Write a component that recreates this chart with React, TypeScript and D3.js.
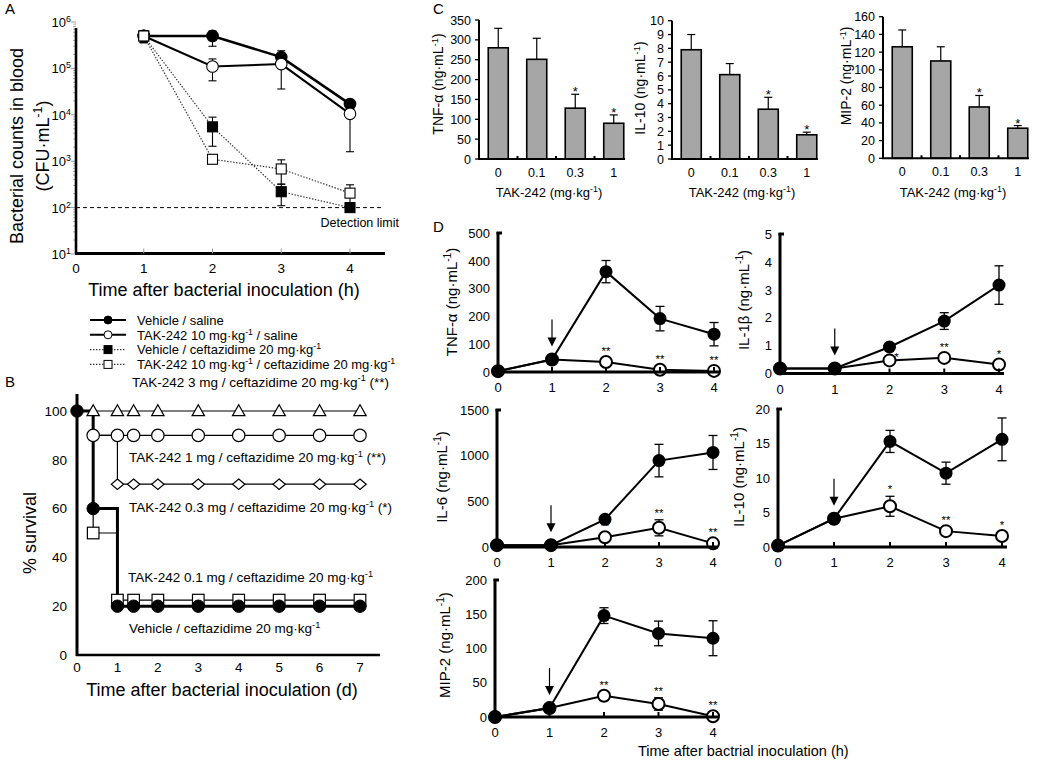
import React from 'react';
import * as d3 from 'd3';

const FONT = "'Liberation Sans', Arial, Helvetica, sans-serif";

// ---------------- Panel A data ----------------
const aHours = [1, 2, 3, 4];
const aVehSaline = [5.0e5, 5.0e5, 1.75e5, 1.7e4];
const aVehSalineLo = [3.6e5, 3.0e5, 1.24e5, 1.5e4];
const aVehSalineHi = [6.5e5, 6.4e5, 2.4e5, 2.0e4];
const aTakSaline = [5.0e5, 1.1e5, 1.24e5, 1.05e4];
const aTakSalineLo = [3.6e5, 5.4e4, 3.6e4, 1.6e3];
const aTakSalineHi = [6.5e5, 1.6e5, 1.6e5, 1.5e4];
const aVehCef = [5.0e5, 5.5e3, 220, 100];
const aVehCefLo = [3.6e5, 2.1e3, 110, 100];
const aVehCefHi = [6.5e5, 8.9e3, 320, 100];
const aTakCef = [5.0e5, 1.1e3, 680, 205];
const aTakCefLo = [3.6e5, 1.1e3, 320, 100];
const aTakCefHi = [6.5e5, 1.1e3, 1070, 310];
const aDetectionLimit = 100;
const aYTicks = [1e1, 1e2, 1e3, 1e4, 1e5, 1e6];
const aXTicks = [0, 1, 2, 3, 4];
const aLegend = [
  'Vehicle / saline',
  'TAK-242 10 mg·kg^{-1} / saline',
  'Vehicle / ceftazidime 20 mg·kg^{-1}',
  'TAK-242 10 mg·kg^{-1} / ceftazidime 20 mg·kg^{-1}',
];

// ---------------- Panel B data ----------------
const bDays = [0, 0.4, 1, 1.4, 2, 3, 4, 5, 6, 7];
const bVehicle = [100, 60, 20, 20, 20, 20, 20, 20, 20, 20];
const bTak01 = [100, 50, 22.5, 22.5, 22.5, 22.5, 22.5, 22.5, 22.5, 22.5];
const bTak03 = [100, 90, 70, 70, 70, 70, 70, 70, 70, 70];
const bTak1 = [100, 90, 90, 90, 90, 90, 90, 90, 90, 90];
const bTak3 = [100, 100, 100, 100, 100, 100, 100, 100, 100, 100];
const bXTicks = [0, 1, 2, 3, 4, 5, 6, 7];
const bYTicks = [0, 20, 40, 60, 80, 100];
const bLabels = [
  'TAK-242 3 mg / ceftazidime 20 mg·kg^{-1} (**)',
  'TAK-242 1 mg / ceftazidime 20 mg·kg^{-1} (**)',
  'TAK-242 0.3 mg / ceftazidime 20 mg·kg^{-1} (*)',
  'TAK-242 0.1 mg / ceftazidime 20 mg·kg^{-1}',
  'Vehicle / ceftazidime 20 mg·kg^{-1}',
];

// ---------------- Panel C data ----------------
const cDoses = ['0', '0.1', '0.3', '1'];
const cTNF = [280, 251, 128, 90];
const cTNFErr = [49, 53, 35, 21];
const cIL10 = [7.9, 6.1, 3.6, 1.75];
const cIL10Err = [1.1, 0.8, 0.86, 0.19];
const cMIP2 = [126, 110, 58, 34];
const cMIP2Err = [19, 16, 13, 3];
const cSig = ['', '', '*', '*'];

// ---------------- Panel D data ----------------
const dHours = [0, 1, 2, 3, 4];
const dTNFVeh = [3, 45, 361, 192, 136];
const dTNFVehErr = [0, 0, 40, 44, 42];
const dTNFTak = [3, 45, 36, 8, 4];
const dTNFTakErr = [0, 0, 0, 0, 0];
const dTNFSig = ['', '', '**', '**', '**'];
const dIL1Veh = [0.18, 0.18, 0.95, 1.88, 3.17];
const dIL1VehErr = [0, 0, 0, 0.3, 0.69];
const dIL1Tak = [0.18, 0.18, 0.47, 0.56, 0.32];
const dIL1TakErr = [0, 0, 0, 0, 0];
const dIL1Sig = ['', '', '*', '**', '*'];
const dIL6Veh = [20, 20, 303, 946, 1035];
const dIL6VehErr = [0, 0, 0, 178, 186];
const dIL6Tak = [20, 20, 106, 210, 40];
const dIL6TakErr = [0, 0, 0, 88, 0];
const dIL6Sig = ['', '', '**', '**', '**'];
const dIL10Veh = [0.2, 4.1, 15.3, 10.7, 15.6];
const dIL10VehErr = [0, 0, 1.6, 1.6, 3.1];
const dIL10Tak = [0.2, 4.1, 5.9, 2.3, 1.6];
const dIL10TakErr = [0, 0, 1.45, 0.5, 0];
const dIL10Sig = ['', '', '*', '**', '*'];
const dMIP2Veh = [0, 13, 148, 122, 115];
const dMIP2VehErr = [0, 0, 11.5, 18, 25.5];
const dMIP2Tak = [0, 13, 31, 19, 1];
const dMIP2TakErr = [0, 0, 0, 9, 0];
const dMIP2Sig = ['', '', '**', '**', '**'];

// ---------------- helpers ----------------
function rich(s: string, fs: number) {
  const parts = s.split(/(\^\{[^}]*\})/).filter((p) => p !== '');
  let raised = false;
  return parts.map((p, i) => {
    if (p.startsWith('^{')) {
      const el = (
        <tspan key={i} fontSize={fs * 0.68} dy={raised ? 0 : -fs * 0.38}>
          {p.slice(2, -1)}
        </tspan>
      );
      raised = true;
      return el;
    }
    const el = (
      <tspan key={i} dy={raised ? fs * 0.38 : 0}>
        {p}
      </tspan>
    );
    raised = false;
    return el;
  });
}

function T({ x, y, s, fs = 13, anchor = 'start', rot = false }: any) {
  if (rot)
    return (
      <text transform={`translate(${x},${y}) rotate(-90)`} textAnchor={anchor} fontSize={fs}>
        {rich(s, fs)}
      </text>
    );
  return (
    <text x={x} y={y} textAnchor={anchor} fontSize={fs}>
      {rich(s, fs)}
    </text>
  );
}

function Marker({ kind, cx, cy, s, filled, sw = 1.2 }: any) {
  const fill = filled ? '#000' : '#fff';
  const common = { fill, stroke: '#000', strokeWidth: sw };
  if (kind === 'circle') return <circle cx={cx} cy={cy} r={s} {...common} />;
  if (kind === 'square') return <rect x={cx - s} y={cy - s} width={2 * s} height={2 * s} {...common} />;
  if (kind === 'triangle')
    return <path d={`M${cx},${cy - s}L${cx + s},${cy + s * 0.75}L${cx - s},${cy + s * 0.75}Z`} {...common} />;
  return <path d={`M${cx},${cy - s * 0.85}L${cx + s},${cy}L${cx},${cy + s * 0.85}L${cx - s},${cy}Z`} {...common} />;
}

// ---------------- Panel A ----------------
function PanelA() {
  const x = d3.scaleLinear().domain([0, 4]).range([75, 350]);
  const y = d3.scaleLog().domain([10, 1e6]).range([254, 22]);
  const axX = 76;
  const axY = 253.5;
  const series = [
    { v: aVehSaline, lo: aVehSalineLo, hi: aVehSalineHi, kind: 'circle', filled: true, lw: 2.6, dash: undefined, col: '#000', ms: 5.8 },
    { v: aTakSaline, lo: aTakSalineLo, hi: aTakSalineHi, kind: 'circle', filled: false, lw: 2, dash: undefined, col: '#000', ms: 5.8 },
    { v: aVehCef, lo: aVehCefLo, hi: aVehCefHi, kind: 'square', filled: true, lw: 1.2, dash: '1.4,1.6', col: '#333', ms: 5 },
    { v: aTakCef, lo: aTakCefLo, hi: aTakCefHi, kind: 'square', filled: false, lw: 1.2, dash: '1.4,1.6', col: '#333', ms: 5 },
  ];
  const line = d3.line<number>().x((_, i) => x(aHours[i])).y((d) => y(d));
  const minor: number[] = [];
  for (let e = 1; e < 6; e++) for (let m = 2; m < 10; m++) minor.push(m * Math.pow(10, e));
  const legY = [320, 334.8, 349.6, 364.4];
  return (
    <g>
      <text x={5} y={14} fontSize={15}>A</text>
      <line x1={axX} x2={382} y1={y(aDetectionLimit)} y2={y(aDetectionLimit)} stroke="#000" strokeWidth={1} strokeDasharray="4,3" />
      <text x={399} y={y(aDetectionLimit) + 19} textAnchor="end" fontSize={12.5}>Detection limit</text>
      {series.map((s, k) => (
        <path key={'l' + k} d={line(s.v) || ''} fill="none" stroke={s.col} strokeWidth={s.lw} strokeDasharray={s.dash} />
      ))}
      {series.map((s, k) =>
        s.v.map((v, i) => {
          const cx = x(aHours[i]);
          const y1 = y(s.lo[i]);
          const y2 = y(s.hi[i]);
          if (Math.abs(y1 - y2) < 1) return null;
          return (
            <g key={'e' + k + '-' + i} stroke="#000" strokeWidth={1.1}>
              <line x1={cx} x2={cx} y1={y1} y2={y2} />
              <line x1={cx - 4} x2={cx + 4} y1={y1} y2={y1} />
              <line x1={cx - 4} x2={cx + 4} y1={y2} y2={y2} />
            </g>
          );
        })
      )}
      {series.map((s, k) =>
        s.v.map((v, i) => (
          <Marker key={'m' + k + '-' + i} kind={s.kind} cx={x(aHours[i])} cy={y(v)} s={s.ms} filled={s.filled} sw={1.1} />
        ))
      )}
      {minor.map((m, i) => (
        <line key={'mn' + i} x1={axX - 3} x2={axX} y1={y(m)} y2={y(m)} stroke="#999" strokeWidth={0.8} />
      ))}
      {aYTicks.map((t, i) => (
        <g key={'yt' + i}>
          <line x1={axX - 5} x2={axX} y1={y(t)} y2={y(t)} stroke="#999" strokeWidth={1} />
          <T x={71} y={y(t) + 5} s={`10^{${Math.round(Math.log10(t))}}`} fs={13} anchor="end" />
        </g>
      ))}
      <line x1={axX} x2={axX} y1={28} y2={axY} stroke="#000" strokeWidth={2.6} />
      <line x1={axX - 1} x2={385} y1={axY} y2={axY} stroke="#000" strokeWidth={3} />
      {aXTicks.map((t, i) => (
        <g key={'xt' + i}>
          {t > 0 && <line x1={x(t)} x2={x(t)} y1={axY - 5} y2={axY} stroke="#999" strokeWidth={1} />}
          <text x={t === 0 ? axX : x(t)} y={axY + 19} textAnchor="middle" fontSize={13.5}>{t}</text>
        </g>
      ))}
      <text x={224} y={296} textAnchor="middle" fontSize={18}>Time after bacterial inoculation (h)</text>
      <T x={23} y={146} s="Bacterial counts in blood" fs={18} anchor="middle" rot />
      <T x={49} y={146} s="(CFU·mL^{-1})" fs={18} anchor="middle" rot />
      {series.map((s, k) => (
        <g key={'lg' + k}>
          <line x1={90} x2={126} y1={legY[k]} y2={legY[k]} stroke={s.col} strokeWidth={s.dash ? 1.1 : 2} strokeDasharray={s.dash} />
          <Marker kind={s.kind} cx={108} cy={legY[k]} s={4} filled={s.filled} sw={1} />
          <T x={137} y={legY[k] + 4.7} s={aLegend[k]} fs={13} />
        </g>
      ))}
    </g>
  );
}

// ---------------- Panel B ----------------
function PanelB() {
  const x = d3.scaleLinear().domain([0, 7]).range([77, 360]);
  const y = d3.scaleLinear().domain([0, 100]).range([655, 411]);
  const line = d3
    .line<number>()
    .curve(d3.curveStepAfter)
    .x((_, i) => x(bDays[i]))
    .y((d) => y(d));
  const thin = [
    { v: bTak3, kind: 'triangle', from: 1 },
    { v: bTak1, kind: 'circle', from: 1 },
    { v: bTak03, kind: 'diamond', from: 2 },
    { v: bTak01, kind: 'square', from: 1 },
  ];
  // label anchor: [x px, level in % units]
  const labelPos = [
    [132, 112],
    [129, 81],
    [129, 60.5],
    [128, 32],
    [129, 11],
  ];
  return (
    <g>
      <text x={5} y={y(112) + 5.5} fontSize={15}>B</text>
      {thin.map((s, k) => (
        <path key={'tl' + k} d={line(s.v) || ''} fill="none" stroke="#000" strokeWidth={1.2} />
      ))}
      <path d={line(bVehicle) || ''} fill="none" stroke="#000" strokeWidth={3} />
      {thin.map((s, k) =>
        s.v.map((v, i) =>
          i >= s.from ? (
            <Marker key={'tm' + k + '-' + i} kind={s.kind} cx={x(bDays[i])} cy={y(v)} s={s.kind === 'square' ? 5.8 : 6.2} filled={false} sw={1.2} />
          ) : null
        )
      )}
      {bVehicle.map((v, i) => (
        <Marker key={'vm' + i} kind="circle" cx={x(bDays[i])} cy={y(v)} s={6.2} filled sw={1} />
      ))}
      {bLabels.map((l, i) => (
        <T key={'bl' + i} x={labelPos[i][0]} y={y(labelPos[i][1]) + 4.8} s={l} fs={13.5} />
      ))}
      <line x1={77} x2={77} y1={y(107)} y2={656} stroke="#000" strokeWidth={3} />
      <line x1={76} x2={380} y1={655} y2={655} stroke="#000" strokeWidth={2.5} />
      {bYTicks.map((t) => (
        <text key={'by' + t} x={67} y={y(t) + 4.8} textAnchor="end" fontSize={13.5}>{t}</text>
      ))}
      {bXTicks.map((t) => (
        <text key={'bx' + t} x={x(t)} y={672} textAnchor="middle" fontSize={13.5}>{t}</text>
      ))}
      <text x={222} y={696} textAnchor="middle" fontSize={18}>Time after bacterial inoculation (d)</text>
      <text transform={`translate(36,${y(50)}) rotate(-90)`} textAnchor="middle" fontSize={18}>% survival</text>
    </g>
  );
}

// ---------------- Panel C ----------------
function BarPanel({ axisX, yTop, y0, max, step, values, errs, ylabel, labelX, labelY }: any) {
  const y = d3.scaleLinear().domain([0, max]).range([y0, yTop]);
  const band = d3.scaleBand<string>().domain(cDoses).range([axisX, axisX + 154]).paddingInner(0.48).paddingOuter(0.24);
  const ticks = d3.range(0, max + step / 2, step);
  const stepW = band.step();
  return (
    <g>
      {values.map((v: number, i: number) => {
        const d = cDoses[i];
        const bx = band(d) as number;
        const cx = bx + band.bandwidth() / 2;
        const top = y(v + errs[i]);
        return (
          <g key={'b' + i}>
            <line x1={cx} x2={cx} y1={y(v)} y2={top} stroke="#000" strokeWidth={1.2} />
            <line x1={cx - 4} x2={cx + 4} y1={top} y2={top} stroke="#000" strokeWidth={1.2} />
            <rect x={bx} y={y(v)} width={band.bandwidth()} height={y0 - y(v)} fill="#a6a6a6" stroke="#000" strokeWidth={1.6} />
            {cSig[i] && (
              <text x={cx} y={top + 2} textAnchor="middle" fontSize={13}>{cSig[i]}</text>
            )}
          </g>
        );
      })}
      <line x1={axisX} x2={axisX} y1={yTop} y2={y0} stroke="#000" strokeWidth={2} />
      <line x1={axisX - 1} x2={axisX + 146} y1={y0} y2={y0} stroke="#000" strokeWidth={2} />
      {ticks.map((t: number) => (
        <g key={'t' + t}>
          <line x1={axisX - 4} x2={axisX} y1={y(t)} y2={y(t)} stroke="#000" strokeWidth={1.3} />
          <text x={axisX - 8} y={y(t) + 4.5} textAnchor="end" fontSize={12.5}>{t}</text>
        </g>
      ))}
      {cDoses.slice(1).map((d, i) => {
        const bx = (band(d) as number) - (stepW * 0.48) / 2;
        return <line key={'xt' + i} x1={bx} x2={bx} y1={y0 - 3} y2={y0} stroke="#000" strokeWidth={2} />;
      })}
      {cDoses.map((d) => (
        <text key={'xl' + d} x={(band(d) as number) + band.bandwidth() / 2} y={y0 + 17.5} textAnchor="middle" fontSize={12.5}>{d}</text>
      ))}
      <T x={axisX + 70} y={197} s="TAK-242 (mg·kg^{-1})" fs={13} anchor="middle" />
      <T x={labelX} y={labelY} s={ylabel} fs={14} anchor="middle" rot />
    </g>
  );
}

// ---------------- Panel D ----------------
function LinePanel({ cfg }: any) {
  const x = d3.scaleLinear().domain([0, 4]).range([cfg.x0, cfg.x4]);
  const y = d3.scaleLinear().domain([0, cfg.max]).range([cfg.y0, cfg.yTop]);
  const line = d3.line<number>().x((_, i) => x(dHours[i])).y((d) => y(d));
  const arrowEnd = y(cfg.veh[1]) - 13;
  const ax = x(1);
  const errBars = (vals: number[], errs: number[], key: string) =>
    vals.map((v, i) => {
      if (!errs[i]) return null;
      const cx = x(dHours[i]);
      const y1 = y(v - errs[i]);
      const y2 = y(v + errs[i]);
      return (
        <g key={key + i} stroke="#000" strokeWidth={1.3}>
          <line x1={cx} x2={cx} y1={y1} y2={y2} />
          <line x1={cx - 4.5} x2={cx + 4.5} y1={y1} y2={y1} />
          <line x1={cx - 4.5} x2={cx + 4.5} y1={y2} y2={y2} />
        </g>
      );
    });
  const sigOff = cfg.sigOff || [];
  return (
    <g>
      <path d={line(cfg.tak) || ''} fill="none" stroke="#000" strokeWidth={2} />
      <path d={line(cfg.veh) || ''} fill="none" stroke="#000" strokeWidth={2} />
      {errBars(cfg.tak, cfg.takErr, 'te')}
      {errBars(cfg.veh, cfg.vehErr, 've')}
      {cfg.tak.map((v: number, i: number) => (
        <circle key={'to' + i} cx={x(dHours[i])} cy={y(v)} r={6} fill="#fff" stroke="#000" strokeWidth={2} />
      ))}
      {cfg.veh.map((v: number, i: number) => (
        <circle key={'vo' + i} cx={x(dHours[i])} cy={y(v)} r={6.5} fill="#000" />
      ))}
      {cfg.sig.map((s: string, i: number) => {
        if (!s) return null;
        const cy = y(cfg.tak[i]);
        const top = Math.min(cy - 14, y(cfg.tak[i] + cfg.takErr[i]) - 10);
        const off = sigOff[i] || [0, 0];
        return (
          <text key={'s' + i} x={x(dHours[i]) + off[0]} y={top + 7 + off[1]} textAnchor="middle" fontSize={11.5}>{s}</text>
        );
      })}
      <line x1={ax} x2={ax} y1={arrowEnd - 27} y2={arrowEnd - 8} stroke="#000" strokeWidth={1.2} />
      <path d={`M${ax - 4.5},${arrowEnd - 9}L${ax + 4.5},${arrowEnd - 9}L${ax},${arrowEnd}Z`} fill="#000" />
      <line x1={cfg.x0} x2={cfg.x0} y1={cfg.yTop - 1} y2={cfg.y0 + 1} stroke="#000" strokeWidth={3} />
      <line x1={cfg.x0 - 1.5} x2={cfg.x0 + 4} y1={cfg.yTop} y2={cfg.yTop} stroke="#000" strokeWidth={3} />
      <line x1={cfg.x0 - 1.5} x2={cfg.x4 + 5} y1={cfg.y0} y2={cfg.y0} stroke="#000" strokeWidth={3} />
      {dHours.map((t) => (
        <g key={'xt' + t}>
          {t > 0 && <line x1={x(t)} x2={x(t)} y1={cfg.y0 - 5} y2={cfg.y0} stroke="#000" strokeWidth={2} />}
          <text x={x(t)} y={cfg.y0 + 20} textAnchor="middle" fontSize={13}>{t}</text>
        </g>
      ))}
      {cfg.ticks.map((t: number) => (
        <text key={'yt' + t} x={cfg.x0 - 8} y={y(t) + 4.7} textAnchor="end" fontSize={13}>{t}</text>
      ))}
      <T x={cfg.labelX} y={cfg.labelY} s={cfg.ylabel} fs={15} anchor="middle" rot />
    </g>
  );
}

const dPanels = [
  { x0: 498, x4: 714, y0: 372, yTop: 233, max: 500, ticks: [0, 100, 200, 300, 400, 500], veh: dTNFVeh, vehErr: dTNFVehErr, tak: dTNFTak, takErr: dTNFTakErr, sig: dTNFSig, ylabel: 'TNF-α (ng·mL^{-1})', labelX: 457, labelY: 302 },
  { x0: 780, x4: 999, y0: 373.5, yTop: 234, max: 5, ticks: [0, 1, 2, 3, 4, 5], veh: dIL1Veh, vehErr: dIL1VehErr, tak: dIL1Tak, takErr: dIL1TakErr, sig: dIL1Sig, sigOff: [null, null, [7, 8], null, null], ylabel: 'IL-1β (ng·mL^{-1})', labelX: 749, labelY: 300 },
  { x0: 497, x4: 713, y0: 547, yTop: 410, max: 1500, ticks: [0, 500, 1000, 1500], veh: dIL6Veh, vehErr: dIL6VehErr, tak: dIL6Tak, takErr: dIL6TakErr, sig: dIL6Sig, ylabel: 'IL-6 (ng·mL^{-1})', labelX: 447, labelY: 477 },
  { x0: 778, x4: 1002, y0: 547, yTop: 409, max: 20, ticks: [0, 5, 10, 15, 20], veh: dIL10Veh, vehErr: dIL10VehErr, tak: dIL10Tak, takErr: dIL10TakErr, sig: dIL10Sig, ylabel: 'IL-10 (ng·mL^{-1})', labelX: 744, labelY: 477 },
  { x0: 495, x4: 713, y0: 717, yTop: 580, max: 200, ticks: [0, 50, 100, 150, 200], veh: dMIP2Veh, vehErr: dMIP2VehErr, tak: dMIP2Tak, takErr: dMIP2TakErr, sig: dMIP2Sig, ylabel: 'MIP-2 (ng·mL^{-1})', labelX: 450, labelY: 645 },
];

export default function App() {
  return (
    <svg
      width={1039}
      height={760}
      style={{ position: 'absolute', left: 0, top: 0, background: '#fff' }}
      fontFamily={FONT}
    >
      <rect x={0} y={0} width={1039} height={760} fill="#fff" />
      <PanelA />
      <PanelB />
      <text x={433} y={14} fontSize={15}>C</text>
      <BarPanel axisX={479} yTop={20} y0={159} max={350} step={50} values={cTNF} errs={cTNFErr} ylabel="TNF-α (ng·mL^{-1})" labelX={443} labelY={84} />
      <BarPanel axisX={672} yTop={20.7} y0={159} max={10} step={1} values={cIL10} errs={cIL10Err} ylabel="IL-10 (ng·mL^{-1})" labelX={645} labelY={88} />
      <BarPanel axisX={883} yTop={16.7} y0={158.3} max={160} step={20} values={cMIP2} errs={cMIP2Err} ylabel="MIP-2 (ng·mL^{-1})" labelX={851} labelY={76} />
      <text x={433} y={232} fontSize={15}>D</text>
      {dPanels.map((p, i) => (
        <LinePanel key={i} cfg={p} />
      ))}
      <text x={638} y={756} fontSize={14.5}>Time after bactrial inoculation (h)</text>
    </svg>
  );
}
